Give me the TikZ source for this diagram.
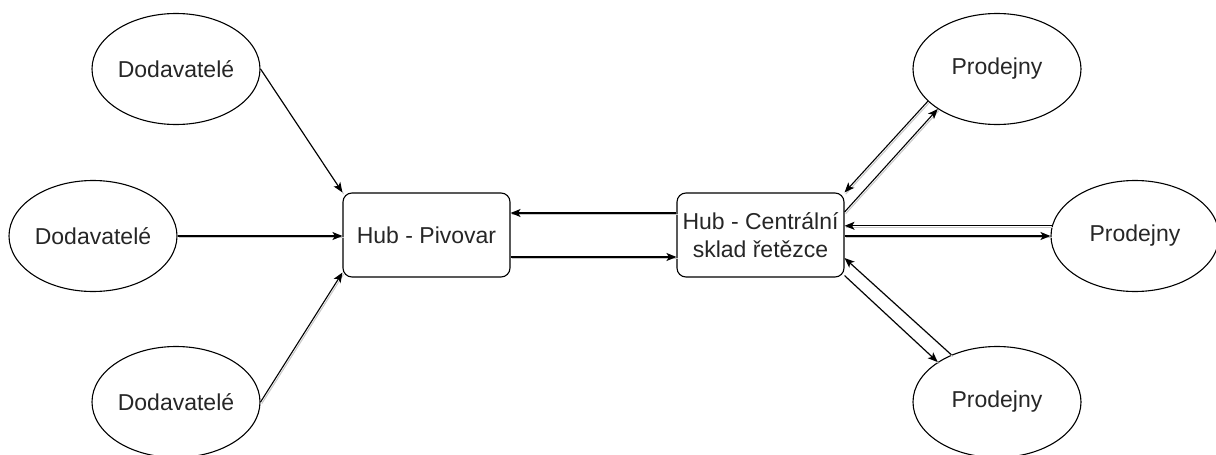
\documentclass[tikz,border=0pt]{standalone}
\usepackage{fontspec}
\setmainfont{Liberation Sans}
\usetikzlibrary{shapes.geometric,arrows.meta,calc}
\tikzset{
  oval/.style={ellipse, draw, line width=1.1pt, minimum width=168pt, minimum height=111pt, inner sep=0pt, text=black!85, font=\fontsize{23}{28}\selectfont},
  hub/.style={rectangle, rounded corners=9pt, draw, line width=1.1pt, minimum width=167pt, minimum height=84pt, inner sep=0pt, align=center, text=black!85, font=\fontsize{23}{28}\selectfont},
  conn/.style={line width=1.1pt, -{Stealth[length=10pt,width=8pt,inset=2.5pt]},
    preaction={draw=black!22, line width=1pt, -, transform canvas={shift={(1.2pt,-1.6pt)}}}}
}
\begin{document}
\begin{tikzpicture}[x=1pt,y=-1pt]
\useasboundingbox (0,0) rectangle (1216,455);
\node[oval] (d1) at (176,69) {Dodavatelé};
\node[oval] (d2) at (93,236) {Dodavatelé};
\node[oval] (d3) at (176,402) {Dodavatelé};
\node[oval] (p1) at (997,69) {Prodejny};
\node[oval] (p2) at (1135,236) {Prodejny};
\node[oval] (p3) at (997,402) {Prodejny};
\node[hub] (hp) at (426.5,235) {Hub - Pivovar};
\node[hub] (cs) at (760.5,235) {Hub - Centrální\\sklad řetězce};
% suppliers
\draw[conn] (d1.east) -- (hp.north west);
\draw[conn] (d2.east) -- (hp.west |- d2.east);
\draw[conn] (d3.east) -- ($(hp.south west)+(0,-5)$);
% hubs
\draw[conn] ($(cs.west)+(0,-22)$) -- ($(hp.east)+(0,-22)$);
\draw[conn] ($(hp.east)+(0,22)$) -- ($(cs.west)+(0,22)$);
% shops
\draw[conn] (p1.205) -- (cs.north east);
\draw[conn] ($(cs.east)+(0,-23)$) -- (p1.214);
\draw[conn] (p2.173) -- (cs.east |- p2.173);
\draw[conn] (cs.east |- p2.west) -- (p2.west);
\draw[conn] (p3.134) -- ($(cs.east)+(0,23)$);
\draw[conn] ($(cs.south east)+(0,-2)$) -- (p3.146);
\end{tikzpicture}
\end{document}
